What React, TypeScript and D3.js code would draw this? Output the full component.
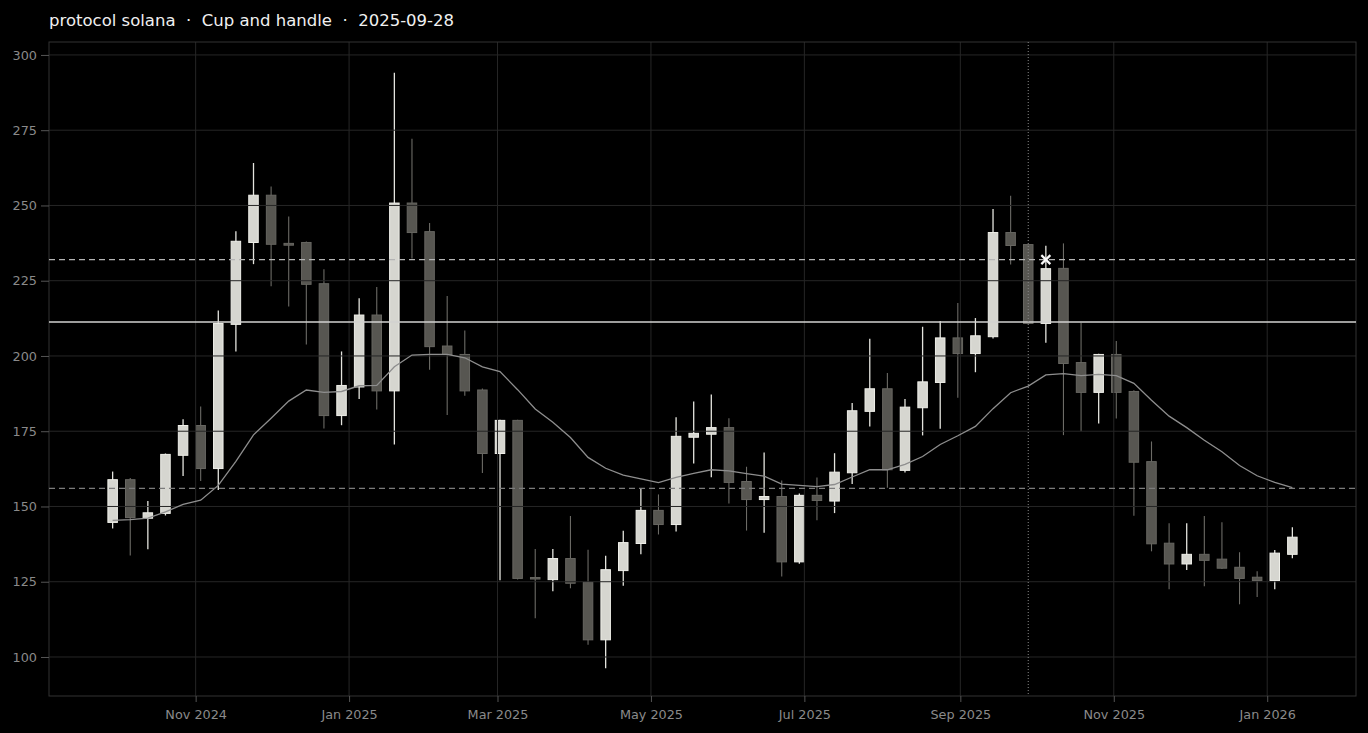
import * as d3 from "d3";
import { useRef, useEffect } from "react";

// weekly candles, Sundays, 2024-09-29 .. 2026-01-11
const open = [
  144.7, 158.9, 146.1, 147.7, 167.0, 176.9, 162.6, 210.5, 237.7, 253.4,
  237.4, 237.7, 224.0, 180.2, 189.7, 213.6, 188.4, 250.8, 241.3, 203.3,
  200.5, 188.7, 167.6, 178.6, 126.4, 125.7, 132.7, 124.8, 105.7, 128.7,
  137.7, 148.7, 144.0, 173.0, 174.0, 176.2, 158.3, 152.3, 153.3, 131.6,
  153.7, 151.8, 161.2, 181.6, 189.1, 162.0, 182.8, 191.2, 206.0, 200.8,
  206.4, 241.0, 237.0, 210.8, 229.1, 197.8, 187.9, 200.5, 188.2, 164.9,
  137.8, 130.9, 134.1, 132.5, 129.8, 126.5, 125.4, 134.1,
];
const high = [
  161.6, 159.5, 151.8, 167.6, 179.0, 183.2, 215.1, 241.4, 264.1, 256.3,
  246.3, 238.0, 228.8, 201.5, 219.2, 222.9, 294.1, 272.2, 244.2, 219.9,
  208.5, 189.2, 178.8, 178.8, 135.9, 135.9, 146.8, 135.6, 133.6, 141.9,
  156.0, 154.0, 179.6, 184.9, 187.2, 179.3, 163.2, 167.9, 158.6, 154.3,
  159.6, 167.7, 184.4, 205.7, 194.3, 185.7, 209.7, 211.6, 217.6, 212.6,
  248.8, 253.2, 237.2, 236.6, 237.4, 211.0, 200.7, 205.0, 188.6, 171.6,
  144.4, 144.4, 146.8, 144.8, 134.8, 128.5, 135.5, 143.1,
];
const low = [
  142.7, 133.7, 135.8, 147.0, 160.1, 158.5, 155.5, 201.5, 230.5, 223.2,
  216.4, 203.8, 175.9, 177.0, 185.7, 182.2, 170.6, 232.4, 195.4, 180.4,
  186.8, 161.1, 125.5, 125.7, 112.9, 121.8, 122.8, 104.1, 96.3, 123.7,
  134.1, 140.7, 141.7, 164.3, 159.7, 151.0, 142.0, 141.3, 126.7, 131.0,
  145.4, 147.8, 157.5, 176.6, 156.2, 161.3, 173.6, 175.8, 186.1, 194.6,
  205.8, 230.4, 210.5, 204.4, 173.7, 175.0, 177.6, 179.2, 146.9, 135.1,
  122.5, 128.9, 123.5, 129.2, 117.5, 119.9, 122.5, 132.8,
];
const close = [
  158.9, 146.3, 147.9, 167.3, 176.9, 162.6, 210.8, 238.1, 253.4, 237.1,
  236.8, 223.8, 180.2, 190.2, 213.6, 188.4, 250.8, 241.0, 203.1, 200.5,
  188.4, 167.6, 178.6, 126.1, 126.0, 132.7, 124.5, 105.7, 129.0, 138.0,
  148.7, 144.0, 173.3, 174.3, 176.2, 158.0, 152.3, 153.3, 131.6, 153.7,
  152.0, 161.4, 181.8, 189.1, 162.2, 183.0, 191.4, 206.0, 200.8, 206.7,
  241.0, 236.7, 210.8, 229.0, 197.5, 187.9, 200.5, 187.9, 164.7, 137.6,
  130.9, 134.1, 132.1, 129.5, 126.1, 125.4, 134.5, 139.8,
];
const movingAvg = [
  145.4, 145.6, 146.1, 148.2, 150.7, 152.1, 157.0, 165.0, 173.8, 179.3,
  185.0, 188.7, 187.9, 188.2, 190.1, 190.2, 196.4, 200.3, 200.5, 200.5,
  199.4, 196.4, 194.8, 188.8, 182.4, 178.0, 172.9, 166.3, 162.7, 160.4,
  159.2, 157.9, 159.7, 161.0, 162.2, 161.8, 160.9, 160.1, 157.4, 157.0,
  156.6, 157.3, 159.8, 162.2, 162.2, 164.0, 166.6, 170.6, 173.5, 176.6,
  182.5, 187.8, 190.0, 193.7, 194.1, 193.5, 193.9, 193.5, 190.9, 185.3,
  180.0, 176.2, 172.0, 168.2, 163.6, 160.2, 158.0, 156.3,
];

const firstWeek = new Date(Date.UTC(2024, 8, 29));
const dates = d3.utcWeek.range(firstWeek, d3.utcWeek.offset(firstWeek, open.length));

const resistance = 232;
const neckline = 211.3;
const support = 156;
const patternDate = new Date(Date.UTC(2025, 8, 28));
const signalDate = new Date(Date.UTC(2025, 9, 5));
const yTicks = [100, 125, 150, 175, 200, 225, 250, 275, 300];

const title = "protocol solana  ·  Cup and handle  ·  2025-09-28";

const width = 1368;
const height = 733;
const marginLeft = 49;
const marginRight = 12;
const marginTop = 42;
const marginBottom = 37;
const font = "DejaVu Sans";

export default function App() {
  const gx = useRef<SVGGElement>(null);
  const gy = useRef<SVGGElement>(null);

  const pad = 25.3 * 864e5;
  const x = d3.scaleUtc(
    [new Date(+dates[0] - pad), new Date(+dates[dates.length - 1] + pad)],
    [marginLeft, width - marginRight],
  );
  const y = d3.scaleLinear([87.04, 304.3], [height - marginBottom, marginTop]);
  const xTicks = x.ticks(d3.utcMonth.every(2)!);
  const bodyW = 9.5;

  const maLine = d3
    .line<number>()
    .x((d, i) => x(dates[i]))
    .y((d) => y(d));

  useEffect(() => {
    const g = d3.select(gx.current!);
    g.call(
      d3
        .axisBottom(x)
        .tickValues(xTicks)
        .tickFormat(d3.utcFormat("%b %Y") as any)
        .tickSize(6)
        .tickPadding(8),
    );
    g.attr("font-family", font).attr("font-size", 12.8);
    g.select(".domain").remove();
    g.selectAll("line").attr("stroke", "#555");
    g.selectAll("text").attr("fill", "#8a8a8a");
  }, [x]);
  useEffect(() => {
    const g = d3.select(gy.current!);
    g.call(d3.axisLeft(y).tickValues(yTicks).tickSize(8).tickPadding(4));
    g.attr("font-family", font).attr("font-size", 12.8);
    g.select(".domain").remove();
    g.selectAll("line").attr("stroke", "#555");
    g.selectAll("text").attr("fill", "#8a8a8a");
  }, [y]);

  const left = marginLeft;
  const right = width - marginRight;
  const top = marginTop;
  const bottom = height - marginBottom;
  const sx = x(signalDate);
  const sy = y(resistance);

  return (
    <div style={{ position: "absolute", left: 0, top: 0, width, height, background: "#000" }}>
      <svg width={width} height={height} fontFamily={font} style={{ display: "block" }}>
        <rect width={width} height={height} fill="#000" />
        <text x={49} y={26} fill="#f0f0f0" fontSize={16.5} style={{ whiteSpace: "pre" }}>
          {title}
        </text>

        {/* candles */}
        <g>
          {dates.map((d, i) => {
            const up = close[i] >= open[i];
            return (
              <line
                key={"w" + i}
                x1={x(d)}
                x2={x(d)}
                y1={y(high[i])}
                y2={y(low[i])}
                stroke={up ? "#e4e4de" : "#6c6b66"}
                strokeWidth={up ? 1.3 : 1.1}
              />
            );
          })}
          {dates.map((d, i) => {
            const up = close[i] >= open[i];
            const y0 = y(Math.max(open[i], close[i]));
            const y1 = y(Math.min(open[i], close[i]));
            return (
              <rect
                key={"b" + i}
                x={x(d) - bodyW / 2}
                y={y0}
                width={bodyW}
                height={Math.max(1.5, y1 - y0)}
                fill={up ? "#d6d6d0" : "#575651"}
                stroke={up ? "#efefe9" : "#676661"}
                strokeWidth={1}
              />
            );
          })}
        </g>

        {/* grid over the candles */}
        <g stroke="#262626" strokeWidth={1}>
          {yTicks.map((t) => (
            <line key={t} x1={left} x2={right} y1={y(t)} y2={y(t)} />
          ))}
          {xTicks.map((t) => (
            <line key={+t} x1={x(t)} x2={x(t)} y1={top} y2={bottom} />
          ))}
        </g>
        <rect x={left} y={top} width={right - left} height={bottom - top} fill="none" stroke="#333" />

        <g ref={gx} transform={`translate(0,${bottom})`} />
        <g ref={gy} transform={`translate(${left},0)`} />

        <path d={maLine(movingAvg) as string} fill="none" stroke="#8e8e8e" strokeWidth={1.3} />

        <line x1={left} x2={right} y1={y(resistance)} y2={y(resistance)} stroke="#b4b4b4" strokeWidth={1.3} strokeDasharray="6,4" />
        <line x1={left} x2={right} y1={y(support)} y2={y(support)} stroke="#7c7c7c" strokeWidth={1.3} strokeDasharray="6,4" />
        <line x1={left} x2={right} y1={y(neckline)} y2={y(neckline)} stroke="#d2d2d0" strokeWidth={1.6} />
        <line x1={x(patternDate)} x2={x(patternDate)} y1={top} y2={bottom} stroke="#8a8a8a" strokeWidth={1} strokeDasharray="1,2" />

        <g stroke="#fafafa" strokeWidth={2.2}>
          <line x1={sx - 4.5} x2={sx + 4.5} y1={sy - 4.5} y2={sy + 4.5} />
          <line x1={sx - 4.5} x2={sx + 4.5} y1={sy + 4.5} y2={sy - 4.5} />
        </g>
      </svg>
    </div>
  );
}
